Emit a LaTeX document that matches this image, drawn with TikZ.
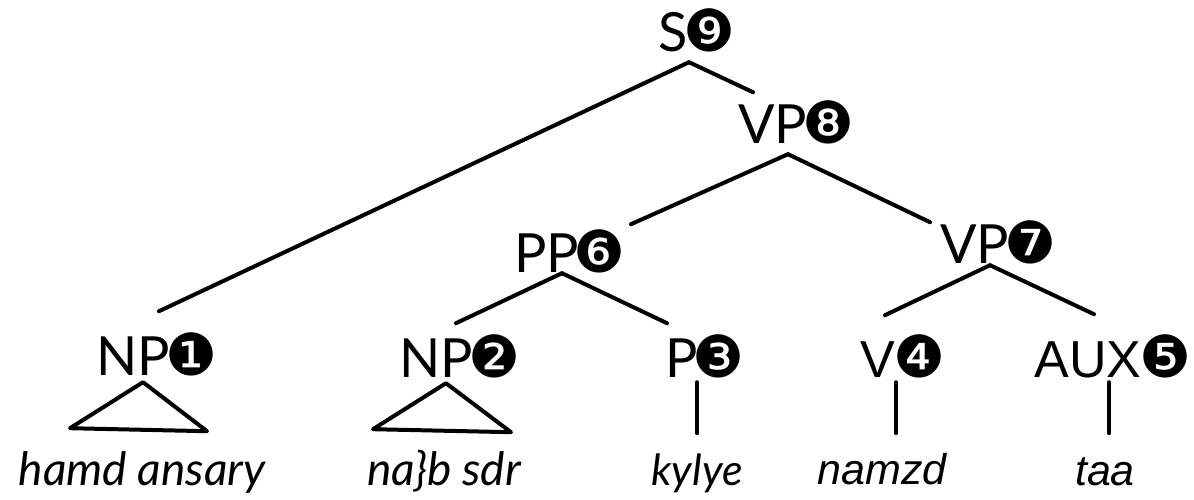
\documentclass[tikz,border=0pt]{standalone}
\usepackage{fontspec}
\usetikzlibrary{calc}
\newfontfamily\gsfont{Lato}
\newfontfamily\hvfont{Liberation Sans}
\newfontfamily\djfont{DejaVu Sans}
\newcommand\cnum[2][-5pt]{{\kern#1\djfont\fontsize{58}{58}\selectfont #2\kern-4pt}}
\tikzset{
  cat/.style={font=\gsfont\fontsize{54}{54}\selectfont, inner sep=0pt, anchor=base, text depth=0pt},
  hcat/.style={font=\hvfont\fontsize{52}{52}\selectfont, inner sep=0pt, anchor=base, text depth=0pt},
  leaf/.style={font=\gsfont\itshape\fontsize{46}{46}\selectfont, inner sep=0pt, anchor=base, text depth=0pt},
  hleaf/.style={font=\hvfont\itshape\fontsize{43}{43}\selectfont, inner sep=0pt, anchor=base, text depth=0pt},
  edge/.style={line width=4pt, line cap=round, line join=round}
}
\begin{document}
\begin{tikzpicture}[x=1pt, y=-1pt]
\useasboundingbox (0,0) rectangle (1194,500);
% category nodes
\node[cat]  (S)   at (695,52)  {S\cnum{❾}};
\node[cat]  (VPa) at (794,143) {VP\cnum{❽}};
\node[cat]  (PP)  at (568,272) {PP\cnum{❻}};
\node[cat]  (VPb) at (996,263) {VP\cnum{❼}};
\node[cat]  (NPa) at (155,375) {NP\cnum{❶}};
\node[cat]  (NPb) at (458,377) {NP\cnum{❷}};
\node[cat]  (P)   at (703,377) {P\cnum{❸}};
\node[hcat] (V)   at (901,377) {V\cnum[-1pt]{❹}};
\node[hcat] (AUX) at (1111,377) {AUX\cnum[-2pt]{❺}};
% leaves
\node[leaf]  (La) at (142,485) {hamd ansary};
\node[leaf]  (Lb) at (444,485) {na\}b sdr};
\node[leaf, font=\gsfont\itshape\fontsize{43}{43}\selectfont] (Lc) at (697,485) {kylye};
\node[hleaf] (Ld) at (882,484) {namzd};
\node[hleaf] (Le) at (1105,485) {taa};
% edges
\draw[edge] ($(S.south)+(-6,10)$) -- ($(NPa.south)+(4,-64)$);
\draw[edge] ($(S.south)+(-6,10)$) -- ($(VPa.south)+(-41,-51)$);
\draw[edge] ($(VPa.south)+(-6,11)$) -- ($(PP.south)+(63,-48)$);
\draw[edge] ($(VPa.south)+(-6,11)$) -- ($(VPb.south)+(-66,-41)$);
\draw[edge] ($(PP.south)+(-6,1)$) -- ($(NPb.south)+(-2,-54)$);
\draw[edge] ($(PP.south)+(-6,1)$) -- ($(P.south)+(-36,-54)$);
\draw[edge] ($(VPb.south)+(-6,2)$) -- ($(V.south)+(-16,-62)$);
\draw[edge] ($(VPb.south)+(-6,2)$) -- ($(AUX.south)+(-17,-63)$);
% triangles
\draw[edge] ($(NPa.south)+(-12,7)$) -- ($(La.south)+(-72,-57)$) -- ($(La.south)+(65,-54)$) -- cycle;
\draw[edge] ($(NPb.south)+(-12,6)$) -- ($(Lb.south)+(-71,-56)$) -- ($(Lb.south)+(67,-53)$) -- cycle;
% unary lines
\draw[edge] ($(P.south)+(-6,5)$) -- ($(Lc.south)+(0,-52)$);
\draw[edge] ($(V.south)+(-5,5)$) -- ($(Ld.south)+(14,-51)$);
\draw[edge] ($(AUX.south)+(-2,5)$) -- ($(Le.south)+(4,-52)$);
\end{tikzpicture}
\end{document}
